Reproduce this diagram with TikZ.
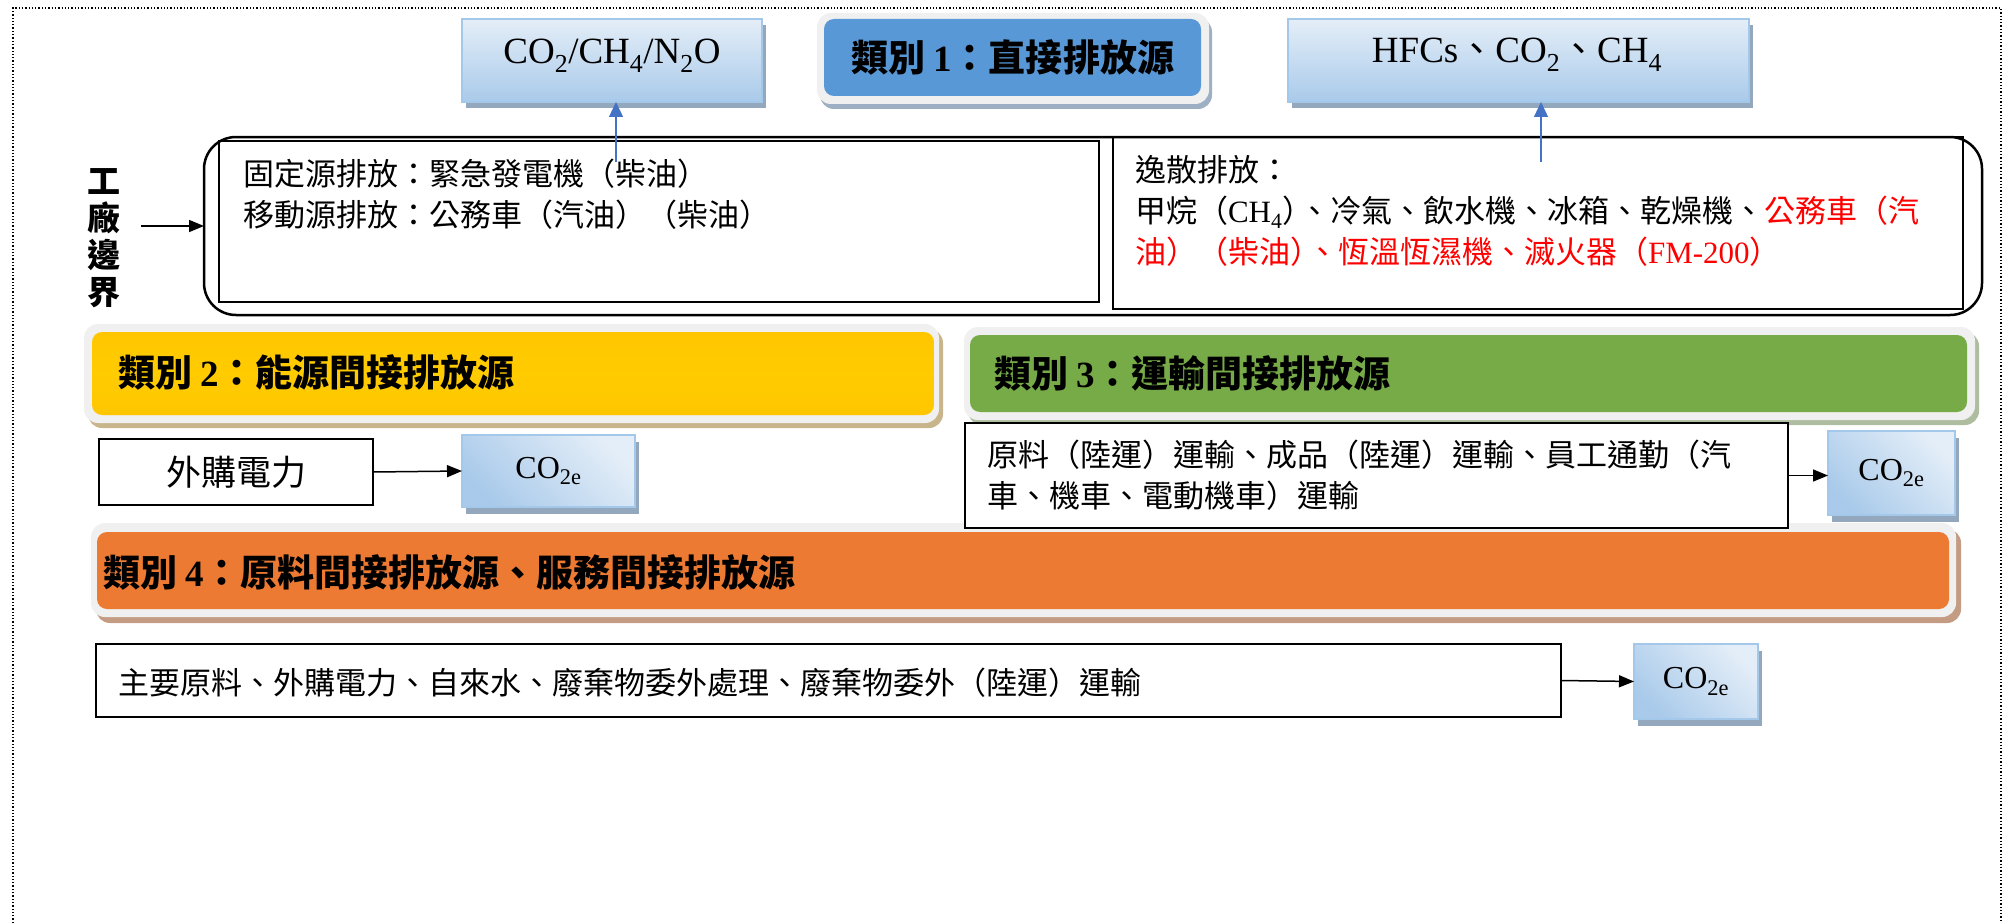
\documentclass[tikz,border=0pt]{standalone}
\usepackage{fontspec}
\setmainfont{Liberation Serif}
\newfontfamily\cjk{Noto Sans CJK TC}
\usetikzlibrary{arrows.meta,shadows}
\definecolor{hdrblue}{HTML}{5898D6}
\definecolor{hdryellow}{HTML}{FFC600}
\definecolor{hdryellowB}{HTML}{FFCC00}
\definecolor{hdrgreen}{HTML}{77AB48}
\definecolor{hdrorange}{HTML}{ED7A33}
\definecolor{outergray}{HTML}{F0F0F0}
\definecolor{shblue}{HTML}{9DAFC2}
\definecolor{shyellow}{HTML}{C9B58C}
\definecolor{shgreen}{HTML}{AEBD9F}
\definecolor{shorange}{HTML}{C49C84}
\definecolor{boxedge}{HTML}{A4C8EA}
\definecolor{boxshadow}{HTML}{93A8BC}
\definecolor{arrowblue}{HTML}{4472C4}
\definecolor{gasTop}{HTML}{E4EEF8}
\definecolor{gasBot}{HTML}{A9CAEA}
\newcommand{\latn}[1]{{\rmfamily #1}}
\newcommand{\pk}{\kern-0.45em}
\begin{document}
\begin{tikzpicture}[x=1pt,y=-1pt,
  every node/.style={inner sep=0pt, outer sep=0pt},
  body/.style={font=\cjk\fontsize{31}{41}\selectfont, align=left, anchor=west},
  hdrtext/.style={font=\cjk\bfseries\fontsize{37}{44}\selectfont, anchor=west},
  hdrouter/.style={fill=outergray, rounded corners=14pt, anchor=north west},
  hdrinner/.style={rounded corners=10pt, anchor=north west},
  gasbox/.style={draw=boxedge, line width=1.5pt, anchor=north west,
    top color=gasTop, bottom color=gasBot,
    drop shadow={shadow xshift=4pt, shadow yshift=-6pt, fill=boxshadow, opacity=1}},
  co2box/.style={draw=boxedge, line width=1.5pt, anchor=north west,
    shading=axis, top color=gasBot, bottom color=gasTop, shading angle=135,
    drop shadow={shadow xshift=4pt, shadow yshift=-7pt, fill=boxshadow, opacity=1},
    font=\rmfamily\fontsize{32}{36}\selectfont},
  gaslabel/.style={font=\rmfamily\fontsize{37}{42}\selectfont},
  plainbox/.style={draw=black, fill=white, anchor=north west},
  blkarrow/.style={-{Triangle[length=15pt,width=12pt]}, line width=1.5pt},
  bluarrow/.style={-{Triangle[length=15pt,width=14pt]}, line width=1.3pt, draw=arrowblue, fill=arrowblue}
]
\useasboundingbox (0,0) rectangle (2009,923);
% dotted frame
\draw[dotted, line width=1.3pt] (13,923) -- (13,8) -- (2001,8) -- (2001,923);

% top gas boxes
\node[gasbox, minimum width=300pt, minimum height=83pt] (gasA) at (462,19) {};
\node[gaslabel] (gasAt) at (612,56) {CO\textsubscript{2}/CH\textsubscript{4}/N\textsubscript{2}O};
\node[gasbox, minimum width=461pt, minimum height=83pt] (gasB) at (1288,19) {};
\node[gaslabel] (gasBt) at (1517,55) {HFCs{\cjk 、}CO\textsubscript{2}{\cjk 、}CH\textsubscript{4}};

% category 1
\node[hdrouter, minimum width=392pt, minimum height=91pt,
  drop shadow={shadow xshift=3pt, shadow yshift=-5pt, fill=shblue, opacity=1}] (c1out) at (817,13) {};
\node[hdrinner, fill=hdrblue, minimum width=377pt, minimum height=77pt] (c1) at (824,19) {};
\node[font=\cjk\bfseries\fontsize{37}{44}\selectfont] (c1t) at (c1) {類別 \latn{1}：直接排放源};

% boundary
\node[draw, line width=2.5pt, rounded corners=32pt, minimum width=1778pt, minimum height=178pt, anchor=north west] (boundary) at (204,137) {};
\node[draw, line width=2pt, anchor=north west, minimum width=880pt, minimum height=161pt] (fixed) at (219,141) {};
\node[draw, line width=2pt, anchor=north west, minimum width=850pt, minimum height=172pt] (fugit) at (1113,137) {};
\node[body] (fixedt) at (243,194) {固定源排放：緊急發電機（柴油）\\移動源排放：公務車（汽油）（柴油）};
\node[body] (fugitt) at (1135,211) {逸散排放：\\甲烷（\latn{CH\textsubscript{4}}）\pk、冷氣、飲水機、冰箱、乾燥機、{\color{red}公務車（汽}\\{\color{red}油）（柴油）\pk、恆溫恆濕機、滅火器（\latn{FM-200}）}};

\coordinate (gA) at (616,162);
\coordinate (gB) at (1541,162);
\draw[bluarrow] (gA) -- (gA |- gasA.south);
\draw[bluarrow] (gB) -- (gB |- gasB.south);

% boundary label
\node[font=\cjk\bfseries\fontsize{33}{37}\selectfont, align=center] (lbl) at (104,238) {工\\廠\\邊\\界};
\coordinate (lblA) at (141,226);
\draw[blkarrow] (lblA) -- (boundary.west);

% category 2
\node[hdrouter, minimum width=855pt, minimum height=99pt,
  drop shadow={shadow xshift=4pt, shadow yshift=-5pt, fill=shyellow, opacity=1}] (c2out) at (84,324) {};
\node[hdrinner, top color=hdryellow, bottom color=hdryellow, middle color=hdryellowB, minimum width=842pt, minimum height=83pt] (c2) at (92,332) {};
\node[hdrtext] (c2t) at (118,372) {類別 \latn{2}：能源間接排放源};

% category 3
\node[hdrouter, minimum width=1011pt, minimum height=93pt,
  drop shadow={shadow xshift=4pt, shadow yshift=-5pt, fill=shgreen, opacity=1}] (c3out) at (964,327) {};
\node[hdrinner, fill=hdrgreen, minimum width=997pt, minimum height=77pt] (c3) at (970,335) {};
\node[hdrtext] (c3t) at (994,373) {類別 \latn{3}：運輸間接排放源};

% category 2 content
\node[plainbox, line width=1.5pt, minimum width=274pt, minimum height=66pt,
  font=\cjk\fontsize{35}{40}\selectfont] (elec) at (99,439) {外購電力};
\node[co2box, minimum width=173pt, minimum height=72pt] (co2a) at (462,435) {CO\textsubscript{2e}};
\draw[blkarrow] (elec.east) -- (co2a.west);

% category 4
\node[hdrouter, minimum width=1865pt, minimum height=94pt,
  drop shadow={shadow xshift=5pt, shadow yshift=-6pt, fill=shorange, opacity=1}] (c4out) at (91,523) {};
\node[hdrinner, fill=hdrorange, minimum width=1852pt, minimum height=77pt] (c4) at (97,532) {};
\node[hdrtext] (c4t) at (103,572) {類別 \latn{4}：原料間接排放源、服務間接排放源};

% category 3 content
\node[plainbox, line width=1.5pt, minimum width=823pt, minimum height=105pt] (trans) at (965,423) {};
\node[body] (transt) at (987,475) {原料（陸運）運輸、成品（陸運）運輸、員工通勤（汽\\車、機車、電動機車）運輸};
\node[co2box, minimum width=127pt, minimum height=84pt] (co2b) at (1828,431) {CO\textsubscript{2e}};
\draw[blkarrow] (trans.east) -- (trans.east -| co2b.west);

% category 4 content
\node[plainbox, line width=2pt, minimum width=1465pt, minimum height=73pt] (raw) at (96,644) {};
\node[body] (rawt) at (118,683) {主要原料、外購電力、自來水、廢棄物委外處理、廢棄物委外（陸運）運輸};
\node[co2box, minimum width=124pt, minimum height=75pt] (co2c) at (1634,644) {CO\textsubscript{2e}};
\draw[blkarrow] (raw.east) -- (co2c.west);
\end{tikzpicture}
\end{document}
